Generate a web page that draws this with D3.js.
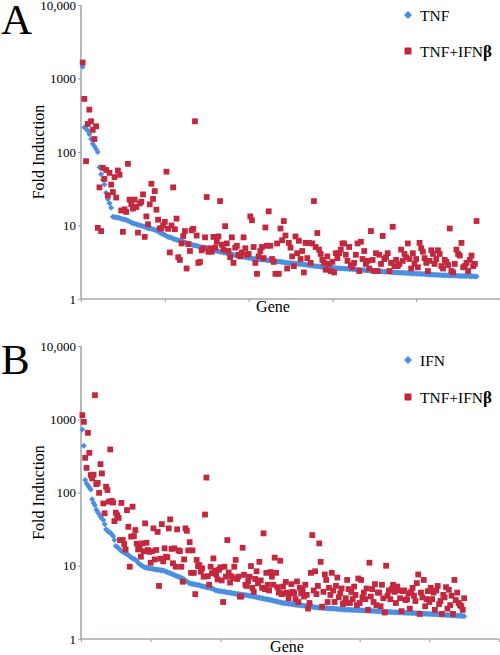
<!DOCTYPE html>
<html>
<head>
<meta charset="utf-8">
<script src="https://cdn.jsdelivr.net/npm/d3@7"></script>
<style>
  html, body { margin: 0; padding: 0; background: #fff; }
  svg { display: block; }
  text { font-family: "Liberation Serif", "Times New Roman", serif; fill: #000; }
</style>
</head>
<body>
<svg id="chart" width="500" height="655"></svg>
<script>
// ---------------- DATA ----------------
const yTickValues = [1, 10, 100, 1000, 10000];
const yTickLabels = ["1", "10", "100", "1000", "10,000"];
const xTicksA = [0, 50, 100, 150, 200, 250];
const xTicksB = [0, 50, 100, 150, 200, 250, 300];
const seriesNamesA = ["TNF", "TNF+IFN"];
const seriesNamesB = ["IFN", "TNF+IFN"];
const panelLabels = ["A", "B"];
const xTitle = "Gene";
const yTitle = "Fold Induction";

// Panel A: TNF alone, sorted by fold induction
const tnfA = [
1450,215,210,195,175,150,130,120,110,100,
62,50,42,36,28,23,20,17.5,13.2,13.0,
12.9,12.7,12.6,12.4,12.2,12.1,11.9,11.6,11.3,11.0,
10.7,10.6,10.4,10.2,10.1,9.9,9.8,9.6,9.4,9.2,
9.1,9.0,8.9,8.7,8.6,8.3,8.0,7.8,7.6,7.4,
7.2,7.0,6.9,6.8,6.6,6.5,6.4,6.3,6.2,6.1,
6.0,5.9,5.8,5.7,5.6,5.5,5.4,5.35,5.3,5.2,
5.1,5.05,5.0,4.95,4.9,4.85,4.75,4.7,4.6,4.55,
4.5,4.45,4.4,4.35,4.3,4.25,4.2,4.15,4.1,4.05,
4.0,3.95,3.9,3.87,3.83,3.8,3.75,3.7,3.66,3.62,
3.6,3.57,3.54,3.52,3.5,3.48,3.45,3.43,3.41,3.39,
3.37,3.35,3.33,3.31,3.29,3.27,3.25,3.23,3.2,3.18,
3.16,3.14,3.12,3.1,3.08,3.06,3.05,3.03,3.01,3.0,
2.98,2.96,2.94,2.92,2.9,2.88,2.86,2.84,2.82,2.8,
2.78,2.76,2.75,2.73,2.72,2.7,2.69,2.68,2.67,2.66,
2.65,2.64,2.63,2.62,2.61,2.6,2.59,2.58,2.57,2.56,
2.55,2.54,2.53,2.52,2.51,2.5,2.49,2.48,2.47,2.46,
2.45,2.44,2.43,2.42,2.41,2.4,2.39,2.38,2.37,2.36,
2.35,2.34,2.34,2.33,2.32,2.31,2.3,2.3,2.29,2.28,
2.27,2.27,2.26,2.25,2.25,2.24,2.23,2.22,2.22,2.21,
2.2,2.2,2.19,2.18,2.18,2.17,2.16,2.16,2.15,2.14,
2.14,2.13,2.12,2.12,2.11,2.11,2.1,2.1,2.09,2.09,
2.08,2.08,2.07,2.07,2.07,2.06,2.06,2.06,2.05,2.05,
2.05,2.04,2.04,2.04,2.03,2.03
];
// Panel A: TNF+IFNbeta for the same genes
const comboA = [
1650,527,75,241,377,262,200,150,224,9.3,
33,8.4,61,43,57,25.7,52,36,28.5,45.5,
24,56,49,16,8.2,16.6,15.3,69,22.5,19.5,
17,22.5,17.9,8.0,20,21,26.5,7.0,13.3,10.4,
19.4,37,23,29.4,16.4,12,9.1,9.1,10,11.2,
54,9,4.3,10,33,8.9,12.4,3.7,3.4,5.7,
7.2,8.4,2.6,5.6,4.5,8.6,9,262,7.3,3.1,
3.2,4.6,4.9,6.9,24.4,4.4,4.9,4.4,7.0,5.0,
6.0,7.1,21.5,5.5,4.7,9.8,5.7,4.5,3.7,6.9,
3.1,5.0,5.3,4.0,3.8,4.3,6.9,4.9,4.0,4.1,
13.3,11.8,5.1,3.1,2.2,3.8,4.5,5.1,3.6,9.4,
5.3,15.6,5.3,3.5,3.2,2.2,5.7,2.2,9.1,6.3,
11.5,7.3,2.6,5.8,5.0,3.8,2.8,7.1,4.2,6.2,
3.5,4.5,2.3,5.8,3.6,5.8,3.1,5.7,21.5,5.1,
7.9,4.7,4.1,3.4,3.1,2.5,3.8,3.0,2.4,3.2,
2.3,4.2,3.6,4.2,4.7,5.7,5.7,4.0,3.3,5.1,
2.9,2.7,3.1,4.0,5.7,2.4,6.0,3.5,4.5,3.0,
3.3,2.6,8.4,3.4,2.4,4.2,2.4,4.0,3.0,7.2,
3.5,3.7,4.2,2.4,3.1,9.6,2.8,3.4,2.8,3.0,
4.7,3.3,4.1,3.7,5.7,3.5,2.6,4.2,3.0,3.5,
2.7,5.8,4.9,4.4,3.6,3.1,2.4,3.3,4.6,4.1,
3.0,3.5,4.6,4.1,2.8,2.6,3.4,3.2,2.9,9.1,
2.4,2.3,3.0,4.7,4.1,3.9,5.8,2.7,2.8,3.1,
2.4,3.4,3.9,2.8,3.0,11.5
];

// Panel B: IFN alone, sorted by fold induction
const ifnB = [
726,434,148,133,125,117,110,81,72,67,
58,54,51,47,44,42,37,31.4,30,29,
28.5,27,25.4,22.4,18.6,18,17.3,16.5,15.9,15.5,
15.1,14.8,14.4,14,13.5,13,12.7,12.4,12.2,11.6,
11,10.6,10.2,9.9,9.7,9.5,9.4,9.3,9.25,9.2,
9.1,9.0,8.95,8.9,8.85,8.8,8.7,8.65,8.6,8.45,
8.3,8.15,8.0,7.9,7.75,7.6,7.45,7.3,7.2,7.05,
6.95,6.8,6.7,6.5,6.3,6.1,5.9,5.75,5.7,5.65,
5.6,5.55,5.5,5.45,5.4,5.35,5.25,5.2,5.15,5.1,
5.05,5.0,4.95,4.9,4.8,4.7,4.6,4.57,4.53,4.5,
4.47,4.43,4.4,4.37,4.33,4.3,4.27,4.23,4.2,4.17,
4.15,4.12,4.1,4.08,4.05,4.03,4.0,3.98,3.95,3.92,
3.9,3.87,3.83,3.8,3.77,3.73,3.7,3.67,3.63,3.6,
3.57,3.53,3.5,3.47,3.43,3.4,3.37,3.33,3.3,3.27,
3.23,3.2,3.17,3.13,3.1,3.08,3.07,3.05,3.03,3.02,
3.0,2.98,2.96,2.94,2.92,2.91,2.9,2.88,2.86,2.85,
2.83,2.82,2.8,2.78,2.76,2.75,2.73,2.71,2.7,2.69,
2.68,2.67,2.66,2.65,2.64,2.63,2.62,2.61,2.61,2.6,
2.6,2.59,2.58,2.57,2.56,2.55,2.54,2.53,2.52,2.51,
2.5,2.5,2.5,2.49,2.49,2.48,2.48,2.47,2.47,2.46,
2.46,2.45,2.45,2.44,2.44,2.43,2.43,2.43,2.42,2.42,
2.41,2.4,2.4,2.39,2.38,2.37,2.37,2.36,2.35,2.35,
2.34,2.33,2.33,2.32,2.32,2.31,2.31,2.3,2.3,2.3,
2.29,2.29,2.29,2.28,2.28,2.27,2.27,2.26,2.26,2.25,
2.25,2.24,2.24,2.23,2.22,2.22,2.21,2.21,2.2,2.2,
2.19,2.19,2.18,2.18,2.17,2.17,2.16,2.16,2.15,2.14,
2.14,2.13,2.12,2.12,2.11,2.1,2.1,2.09,2.09,2.08,
2.08,2.07,2.07,2.06,2.05
];
// Panel B: TNF+IFNbeta for the same genes
const comboB = [
1137,922,298,217,653,348,173,156,175,2130,
130,135,99,244,182,71,52,120,108,75,
387,77,73,40.7,53,49,45,22.4,72,22.4,
19.8,16.7,57.5,34,9.7,25,64,25.4,30.7,20,
16.7,18.5,13.3,20.2,15.8,37.9,20.6,16.4,15.5,11,
15.8,32.4,12.2,16.4,29,5.3,12.5,37,11.5,17.3,
13.3,13,32.4,43,17,10.8,17.3,9.7,31.4,16.2,
15.8,9.7,6.05,12.2,32.4,30,16.2,21,8.0,16.2,
8.0,4.1,12,9.9,10.2,8.3,9.2,7.1,50,160,
7.2,5.5,9.7,7.9,12.6,8.6,7.6,6.5,8.8,9.5,
6.3,3.2,9.7,7.1,22.4,8.1,5.9,7.2,6.8,9.7,
12,6.6,7.1,3.8,3.8,17.6,7.5,5.5,5.3,6.2,
7.1,9.9,5.0,4.4,6.6,8.4,5.75,11.3,6.3,5.0,
27.7,4.8,8.0,5.5,4.6,8.2,7.1,5.5,12.9,8.0,
5.1,4.3,11.7,4.1,5.2,4.2,6.0,4.3,3.6,4.2,
5.6,4.4,4.2,3.5,6.1,3.2,5.0,4.2,4.7,3.8,
5.5,4.0,2.6,3.1,8.0,26.2,4.6,8.4,4.1,5.3,
20.2,11.3,2.76,4.4,7.6,6.4,3.2,5.0,4.0,8.0,
4.6,3.2,5.3,6.9,3.7,4.2,4.9,3.0,3.1,3.6,
6.4,4.8,3.1,4.4,3.5,5.2,4.0,2.9,6.7,3.1,
6.4,3.7,4.3,3.5,4.9,2.5,11,3.8,4.8,3.2,
5.6,2.9,4.3,4.3,2.8,5.5,3.6,2.3,10,3.9,
4.6,3.5,4.8,5.5,4.4,3.1,5.2,4.6,3.6,2.4,
4.5,4.6,3.4,3.5,4.2,2.6,4.4,5.0,3.9,3.3,
5.8,7.6,2.2,4.3,3.7,6.4,2.8,3.5,4.5,3.2,
5.0,3.5,4.3,2.5,4.6,5.3,3.0,3.3,2.2,4.0,
3.7,5.1,2.6,4.7,2.9,3.9,2.2,6.4,3.4,4.3,
3.1,2.9,2.8,2.5,3.6
];

// ---------------- DRAWING ----------------
const BLUE = "#4b8fe2";
const RED = "#c4283e";
const AXIS = "#a3abab";
const svg = d3.select("#chart");

const diamondPath = "M0,-3L3,0L0,3L-3,0Z";

function drawPanel(cfg) {
  const g = svg.append("g");
  const x = d3.scaleLinear().domain(cfg.xDomain).range([cfg.left, cfg.right]);
  const y = d3.scaleLog().domain([1, 10000]).range([cfg.bottom, cfg.top]);

  // y axis
  const yAxis = d3.axisLeft(y)
    .tickValues(yTickValues)
    .tickFormat((d, i) => yTickLabels[i])
    .tickSize(3).tickPadding(2);
  const ya = g.append("g").attr("transform", `translate(${cfg.left},0)`).call(yAxis);
  ya.select(".domain").attr("stroke", AXIS).attr("stroke-width", 1.6).attr("d", `M-0,${cfg.top}V${cfg.bottom}`);
  ya.selectAll(".tick line").attr("stroke", AXIS).attr("stroke-width", 1.2);
  ya.selectAll(".tick text").attr("font-size", 13).attr("fill", "#000");

  // x axis
  const xAxis = d3.axisBottom(x).tickValues(cfg.xTicks).tickFormat("").tickSize(3);
  const xa = g.append("g").attr("transform", `translate(0,${cfg.bottom})`).call(xAxis);
  xa.select(".domain").attr("stroke", AXIS).attr("stroke-width", 1.6).attr("d", `M${cfg.left},0H${cfg.right}`);
  xa.selectAll(".tick line").attr("stroke", AXIS).attr("stroke-width", 1.2);

  // series 1: blue diamonds
  g.append("g").selectAll("path").data(cfg.s1).join("path")
    .attr("d", diamondPath)
    .attr("transform", (d, i) => `translate(${x(i + 1)},${y(d)})`)
    .attr("fill", BLUE);

  // series 2: red squares
  const sq = 5.8;
  g.append("g").selectAll("rect").data(cfg.s2).join("rect")
    .attr("x", (d, i) => x(i + 1) - sq / 2)
    .attr("y", d => y(d) - sq / 2)
    .attr("width", sq).attr("height", sq)
    .attr("fill", RED);

  // titles
  g.append("text").attr("x", cfg.geneX).attr("y", cfg.bottom + 13)
    .attr("text-anchor", "middle").attr("font-size", 16).text(xTitle);
  g.append("text")
    .attr("transform", `translate(${cfg.yTitleX},${y(100)}) rotate(-90)`)
    .attr("text-anchor", "middle").attr("font-size", 16).text(yTitle);

  // panel letter
  g.append("text").attr("x", 1).attr("y", cfg.letterY)
    .attr("font-size", 43).text(cfg.letter);

  // legend
  const lg = g.append("g");
  lg.append("path").attr("d", "M0,-4L4,0L0,4L-4,0Z")
    .attr("transform", `translate(408,${cfg.leg1Y})`).attr("fill", BLUE);
  lg.append("text").attr("x", 420).attr("y", cfg.leg1Y + 5.5).attr("font-size", 15.5).text(cfg.names[0]);
  lg.append("rect").attr("x", 404.5).attr("y", cfg.leg2Y - 3.5).attr("width", 7).attr("height", 7).attr("fill", RED);
  const t2 = lg.append("text").attr("x", 420).attr("y", cfg.leg2Y + 5.5).attr("font-size", 15.5);
  t2.append("tspan").text(cfg.names[1]);
  t2.append("tspan").attr("font-weight", "bold").attr("font-size", 17).text("\u03B2");
}

drawPanel({
  letter: panelLabels[0], letterY: 34,
  xDomain: [0, 250], xTicks: xTicksA,
  left: 81, right: 500, top: 5, bottom: 299,
  s1: tnfA, s2: comboA, names: seriesNamesA,
  geneX: 273, yTitleX: 44, leg1Y: 15, leg2Y: 51
});
drawPanel({
  letter: panelLabels[1], letterY: 374,
  xDomain: [0, 300], xTicks: xTicksB,
  left: 81, right: 499, top: 346, bottom: 639,
  s1: ifnB, s2: comboB, names: seriesNamesB,
  geneX: 287, yTitleX: 44, leg1Y: 360, leg2Y: 397
});
</script>
</body>
</html>
